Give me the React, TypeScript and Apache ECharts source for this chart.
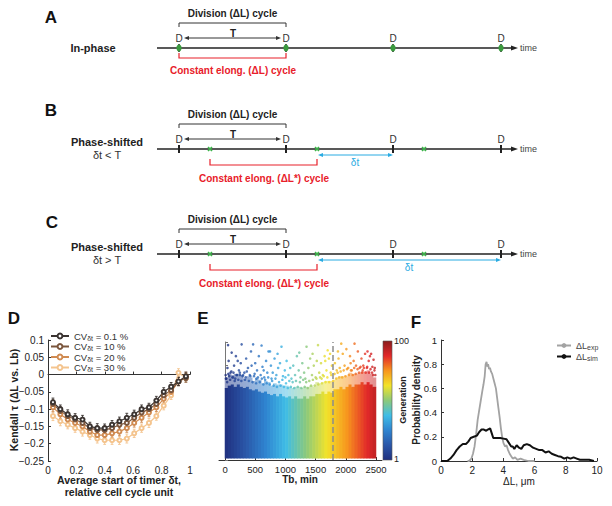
import React, { useEffect, useRef } from 'react';
import * as echarts from 'echarts';

const FONT = '"Liberation Sans", Arial, Helvetica, sans-serif';

// ---------- Panel D data ----------
const dTimerStart = [0.035, 0.087, 0.139, 0.191, 0.243, 0.295, 0.347, 0.399, 0.451, 0.503, 0.555, 0.607, 0.659, 0.711, 0.763, 0.815, 0.867, 0.919, 0.971];
const dCvLabels = ['0.1 %', '10 %', '20 %', '30 %'];
const dKendallCv01 = [-0.08, -0.1, -0.115, -0.125, -0.13, -0.15, -0.155, -0.155, -0.145, -0.135, -0.125, -0.115, -0.1, -0.095, -0.075, -0.05, -0.035, -0.02, -0.005];
const dKendallCv10 = [-0.085, -0.105, -0.12, -0.13, -0.14, -0.155, -0.16, -0.16, -0.155, -0.145, -0.14, -0.125, -0.11, -0.1, -0.085, -0.06, -0.045, -0.02, -0.01];
const dKendallCv20 = [-0.095, -0.115, -0.13, -0.14, -0.15, -0.165, -0.175, -0.175, -0.17, -0.165, -0.155, -0.14, -0.125, -0.11, -0.095, -0.07, -0.05, -0.02, -0.005];
const dKendallCv30 = [-0.12, -0.135, -0.145, -0.155, -0.165, -0.175, -0.185, -0.19, -0.19, -0.19, -0.185, -0.17, -0.155, -0.14, -0.12, -0.09, -0.06, 0.005, -0.01];
const dErrCv01 = [0.012, 0.012, 0.013, 0.012, 0.012, 0.012, 0.013, 0.012, 0.012, 0.012, 0.013, 0.012, 0.012, 0.012, 0.012, 0.012, 0.012, 0.012, 0.012];
const dErrCv10 = [0.012, 0.012, 0.012, 0.012, 0.013, 0.012, 0.012, 0.012, 0.012, 0.013, 0.012, 0.012, 0.012, 0.012, 0.012, 0.012, 0.012, 0.012, 0.012];
const dErrCv20 = [0.013, 0.012, 0.012, 0.013, 0.012, 0.012, 0.012, 0.013, 0.012, 0.012, 0.012, 0.012, 0.013, 0.012, 0.012, 0.012, 0.012, 0.012, 0.012];
const dErrCv30 = [0.013, 0.013, 0.012, 0.012, 0.013, 0.012, 0.013, 0.012, 0.012, 0.012, 0.013, 0.012, 0.012, 0.013, 0.012, 0.012, 0.012, 0.012, 0.012];

// ---------- Panel E data ----------
const eTbBins = [25, 75, 125, 175, 225, 275, 325, 375, 425, 475, 525, 575, 625, 675, 725, 775, 825, 875, 925, 975, 1025, 1075, 1125, 1175, 1225, 1275, 1325, 1375, 1425, 1475, 1525, 1575, 1625, 1675, 1725, 1775, 1825, 1875, 1925, 1975, 2025, 2075, 2125, 2175, 2225, 2275, 2325, 2375, 2425, 2475];
const eDenseTop = [3.05, 3.15, 3.2, 3.1, 3.2, 3.1, 3.05, 3.1, 3.0, 2.95, 3.0, 2.9, 2.85, 2.9, 2.8, 2.75, 2.8, 2.7, 2.8, 2.7, 2.65, 2.7, 2.6, 2.7, 2.6, 2.6, 2.7, 2.6, 2.7, 2.7, 2.8, 2.8, 2.9, 2.8, 2.9, 2.85, 3.0, 3.0, 3.1, 3.0, 3.1, 3.2, 3.1, 3.2, 3.2, 3.3, 3.2, 3.3, 3.2, 3.1];
const eMottledDepth = [0.45, 0.5, 0.4, 0.55, 0.45, 0.5, 0.4, 0.45, 0.5, 0.4, 0.45, 0.5, 0.4, 0.45, 0.5, 0.4, 0.45, 0.5, 0.4, 0.45, 0.5, 0.4, 0.45, 0.4, 0.5, 0.45, 0.4, 0.5, 0.45, 0.4, 0.5, 0.45, 0.4, 0.55, 0.45, 0.5, 0.4, 0.5, 0.45, 0.55, 0.45, 0.5, 0.55, 0.45, 0.5, 0.45, 0.55, 0.5, 0.45, 0.4];
const eSparse = [
  [10, 3.6], [40, 3.9], [60, 4.2], [90, 3.7], [50, 4.87], [120, 3.5], [150, 4.0], [180, 4.4], [200, 3.6], [230, 3.8],
  [260, 4.1], [275, 4.9], [290, 3.55], [20, 3.45], [70, 3.55], [110, 4.55], [140, 3.7], [170, 3.45], [210, 4.2], [250, 3.6],
  [320, 3.7], [350, 4.3], [380, 3.9], [410, 3.6], [440, 4.0], [465, 4.9], [480, 3.55], [500, 4.1], [530, 3.8], [560, 4.4],
  [590, 3.6], [605, 4.85], [620, 3.95], [650, 3.5], [680, 4.2], [700, 3.7], [340, 3.5], [430, 4.6], [520, 3.45], [640, 3.8],
  [720, 4.6], [745, 4.6], [760, 4.0], [790, 3.7], [820, 4.3], [850, 3.6], [880, 3.9], [910, 4.1], [935, 4.8], [960, 3.55],
  [990, 3.8], [1020, 4.2], [1050, 3.6], [1080, 3.9], [1100, 3.45], [770, 3.45], [870, 4.5], [1000, 3.5],
  [1130, 4.0], [1160, 3.6], [1190, 4.4], [1220, 3.8], [1250, 3.5], [1280, 4.1], [1310, 3.7], [1350, 4.8], [1380, 3.9], [1410, 4.3],
  [1440, 3.6], [1470, 4.0], [1500, 3.5], [1230, 4.55], [1330, 3.45], [1450, 4.5],
  [1520, 4.2], [1540, 4.87], [1560, 3.7], [1590, 4.1], [1620, 3.6], [1650, 4.4], [1680, 3.8], [1700, 4.65], [1720, 4.3], [1750, 3.7],
  [1770, 4.0], [1600, 3.45], [1740, 4.5], [1660, 4.2],
  [1820, 4.1], [1850, 3.8], [1880, 4.3], [1900, 3.9], [1925, 4.93], [1950, 4.5], [1980, 4.0], [2010, 4.7], [2040, 3.9], [2070, 4.4],
  [2100, 3.8], [2130, 4.2], [2145, 4.93], [2170, 4.0], [2200, 4.6], [2230, 3.9], [2260, 4.3], [2290, 4.0], [2320, 4.5], [2350, 3.9],
  [2380, 4.2], [2400, 4.4], [2420, 4.5], [2440, 3.95], [2460, 4.25], [2480, 3.9], [1870, 4.6], [2080, 4.1], [2280, 3.8], [2360, 4.6],
  [15, 3.45], [35, 3.3], [55, 3.65], [85, 3.4], [105, 3.75], [135, 3.5], [160, 3.35], [190, 3.6], [220, 3.4], [245, 3.7],
  [270, 3.35], [300, 3.6], [330, 3.4], [360, 3.75], [395, 3.35], [420, 3.55], [455, 3.3], [490, 3.65], [515, 3.25], [545, 3.5],
  [575, 3.3], [610, 3.45], [635, 3.2], [665, 3.4], [690, 3.25], [715, 3.5], [740, 3.2], [780, 3.35], [805, 3.15], [835, 3.45],
  [860, 3.1], [895, 3.3], [920, 3.15], [950, 3.4], [975, 3.1], [1010, 3.25], [1040, 3.05], [1065, 3.35], [1090, 3.1], [1120, 3.3],
  [1145, 3.05], [1175, 3.35], [1205, 3.1], [1240, 3.3], [1265, 3.05], [1295, 3.4], [1320, 3.1], [1345, 3.3], [1370, 3.05], [1395, 3.35],
  [1425, 3.15], [1455, 3.4], [1485, 3.15], [1515, 3.45], [1545, 3.2], [1575, 3.5], [1605, 3.25], [1635, 3.55], [1665, 3.3], [1695, 3.5],
  [1725, 3.3], [1760, 3.6], [1790, 3.35], [1815, 3.65], [1840, 3.45], [1865, 3.7], [1890, 3.5], [1915, 3.75], [1940, 3.5], [1965, 3.8],
  [1995, 3.55], [2020, 3.85], [2050, 3.6], [2085, 3.8], [2115, 3.6], [2140, 3.9], [2165, 3.65], [2195, 3.85], [2220, 3.7], [2245, 3.95],
  [2270, 3.7], [2300, 3.9], [2330, 3.7], [2355, 3.95], [2385, 3.7], [2410, 3.85], [2435, 3.7], [2455, 3.6], [2475, 3.8], [2490, 3.6]
];
const eBinWidth = 50;
const eDivisionTb = 1780;
const eTbTicks = [0, 500, 1000, 1500, 2000, 2500];
const eGenerationLabels = ['100', '1'];

// ---------- Panel F data ----------
const fExp = [
  [1.7, 0], [1.8, 0], [1.95, 0.02], [2.05, 0.06], [2.15, 0.12], [2.25, 0.22], [2.35, 0.34], [2.45, 0.42], [2.55, 0.5], [2.65, 0.58],
  [2.72, 0.63], [2.8, 0.7], [2.86, 0.8], [2.92, 0.82], [2.97, 0.78], [3.02, 0.8], [3.08, 0.76], [3.14, 0.77], [3.2, 0.74], [3.28, 0.72],
  [3.36, 0.68], [3.44, 0.64], [3.52, 0.6], [3.6, 0.52], [3.68, 0.44], [3.76, 0.36], [3.84, 0.27], [3.92, 0.2], [4.0, 0.15], [4.1, 0.12],
  [4.2, 0.13], [4.3, 0.09], [4.4, 0.06], [4.5, 0.04], [4.6, 0.02], [4.75, 0.03], [4.9, 0.01], [5.1, 0.02], [5.3, 0.01], [5.6, 0], [6, 0]
];
const fSim = [
  [0, 0], [0.4, 0], [0.6, 0.02], [0.8, 0.05], [1.0, 0.09], [1.2, 0.12], [1.4, 0.14], [1.6, 0.14], [1.75, 0.16], [1.9, 0.19],
  [2.1, 0.2], [2.3, 0.21], [2.45, 0.24], [2.6, 0.26], [2.75, 0.26], [2.9, 0.25], [3.0, 0.26], [3.15, 0.27], [3.25, 0.23], [3.35, 0.19],
  [3.6, 0.19], [3.8, 0.19], [4.0, 0.185], [4.2, 0.18], [4.35, 0.15], [4.5, 0.12], [4.6, 0.12], [4.7, 0.1], [4.85, 0.13], [5.0, 0.11],
  [5.15, 0.1], [5.3, 0.13], [5.5, 0.14], [5.7, 0.13], [5.9, 0.11], [6.1, 0.1], [6.3, 0.09], [6.5, 0.09], [6.7, 0.07], [6.9, 0.08],
  [7.1, 0.06], [7.3, 0.05], [7.5, 0.04], [7.7, 0.035], [7.9, 0.02], [8.1, 0.03], [8.3, 0.02], [8.5, 0.03], [8.7, 0.02], [8.9, 0.01],
  [9.2, 0.01], [9.5, 0.01], [9.8, 0]
];
const fLegendNames = ['exp', 'sim'];

// ---------- Diagram (A-C) layout ----------
const D_X = [179, 286, 393, 501];
const G_X = [210, 317, 424];

const JET = ['#20307f', '#2a56a8', '#2f84d0', '#3fbde6', '#8cc97a', '#f2e32a', '#f7961e', '#e2282a', '#8a1c1c'];

function buildGraphics() {
  const els: any[] = [];
  const text = (x: number, y: number, t: string, o: any = {}) => {
    const { rotation, ...st } = o;
    const el: any = {
      type: 'text', x, y,
      style: { text: t, fontFamily: FONT, fontSize: 10, fill: '#222', align: 'center', verticalAlign: 'middle', textAlign: 'center', textVerticalAlign: 'middle', ...st },
    };
    if (rotation !== undefined) el.rotation = rotation;
    els.push(el);
  };
  const line = (x1: number, y1: number, x2: number, y2: number, stroke = '#222', lw = 1) =>
    els.push({ type: 'line', shape: { x1, y1, x2, y2 }, style: { stroke, lineWidth: lw } });
  const poly = (pts: number[][], stroke: string, lw = 1) =>
    els.push({ type: 'polyline', shape: { points: pts }, style: { stroke, lineWidth: lw, fill: null } });
  const head = (x: number, y: number, dir: number, fill: string, len = 6, half = 2.2) =>
    els.push({ type: 'polygon', shape: { points: [[x, y], [x - dir * len, y - half], [x - dir * len, y + half]] }, style: { fill } });
  const dblArrow = (x1: number, x2: number, y: number, color: string) => {
    line(x1 + 4, y, x2 - 4, y, color, 1);
    head(x1, y, -1, color, 5, 2);
    head(x2, y, 1, color, 5, 2);
  };

  const panel = (y0: number, kind: 'A' | 'B' | 'C') => {
    text(232.5, y0 - 35, 'Division (ΔL) cycle', { fontWeight: 'bold' });
    poly([[D_X[0], y0 - 21], [D_X[0], y0 - 25], [D_X[1], y0 - 25], [D_X[1], y0 - 21]], '#333', 1);
    D_X.forEach((x) => text(x, y0 - 10, 'D', { fill: '#333' }));
    dblArrow(184, 281, y0 - 10, '#333');
    text(233, y0 - 15, 'T', { fontWeight: 'bold' });
    line(157, y0, 512, y0, '#222', 1.3);
    head(518, y0, 1, '#222', 7, 2.6);
    text(520, y0, 'time', { fontSize: 9, align: 'left', textAlign: 'left', fill: '#444' });
    if (kind === 'A') {
      D_X.forEach((x) => {
        line(x, y0 - 4, x, y0 + 4, '#222', 1.5);
        els.push({ type: 'ellipse', shape: { cx: x, cy: y0, rx: 2.6, ry: 3.4 }, style: { fill: '#3a9a3e' } });
      });
      text(93, y0, 'In-phase', { fontWeight: 'bold', fontSize: 11 });
      poly([[D_X[0], y0 + 5], [D_X[0], y0 + 10], [D_X[1], y0 + 10], [D_X[1], y0 + 5]], '#e8202a', 1.2);
      text(233, y0 + 22, 'Constant elong. (ΔL) cycle', { fontWeight: 'bold', fill: '#e8202a' });
    } else {
      D_X.forEach((x) => line(x, y0 - 4, x, y0 + 4, '#222', 2));
      G_X.forEach((x) => {
        line(x - 2, y0 - 2, x + 2, y0 + 2, '#3cb44a', 1.6);
        line(x - 2, y0 + 2, x + 2, y0 - 2, '#3cb44a', 1.6);
      });
      text(107, y0 - 7, 'Phase-shifted', { fontWeight: 'bold', fontSize: 11 });
      text(107, y0 + 6, kind === 'B' ? 'δt < T' : 'δt > T', { fontSize: 11, fill: '#333' });
      poly([[G_X[0], y0 + 10], [G_X[0], y0 + 16], [G_X[1], y0 + 16], [G_X[1], y0 + 10]], '#e8202a', 1.2);
      text(264, y0 + 29, 'Constant elong. (ΔL*) cycle', { fontWeight: 'bold', fill: '#e8202a' });
      const xEnd = kind === 'B' ? D_X[2] : D_X[3];
      dblArrow(G_X[1] + 1, xEnd, y0 + 6, '#29abe2');
      text((G_X[1] + xEnd) / 2, y0 + 13, 'δt', { fill: '#29abe2', fontSize: 10 });
    }
  };
  panel(48, 'A');
  panel(149, 'B');
  panel(254, 'C');

  const letter = (x: number, y: number, t: string) => text(x, y, t, { fontWeight: 'bold', fontSize: 17, fill: '#111' });
  letter(51, 17, 'A');
  letter(51, 110, 'B');
  letter(52, 222, 'C');
  letter(14, 318, 'D');
  letter(203, 318, 'E');
  letter(416, 322, 'F');

  // D axis titles
  text(14, 400, 'Kendall τ (ΔL vs. Lb)', { fontWeight: 'bold', fontSize: 10.5, rotation: Math.PI / 2 });
  text(119, 480, 'Average start of timer δt,', { fontWeight: 'bold', fontSize: 10.5 });
  text(119, 492, 'relative cell cycle unit', { fontWeight: 'bold', fontSize: 10.5 });

  // E titles and colorbar
  text(300, 479, 'Tb, min', { fontWeight: 'bold', fontSize: 10 });
  els.push({
    type: 'rect', shape: { x: 383, y: 341, width: 9, height: 119 },
    style: {
      fill: {
        type: 'linear', x: 0, y: 1, x2: 0, y2: 0,
        colorStops: JET.map((c, i) => ({ offset: i / (JET.length - 1), color: c })),
      },
      stroke: '#555', lineWidth: 0.6,
    },
  });
  text(394, 341, eGenerationLabels[0], { fontSize: 9, align: 'left', textAlign: 'left' });
  text(394, 459, eGenerationLabels[1], { fontSize: 9, align: 'left', textAlign: 'left' });
  text(403, 400, 'Generation', { fontWeight: 'bold', fontSize: 9, rotation: Math.PI / 2 });

  // F titles
  text(416, 400, 'Probability density', { fontWeight: 'bold', fontSize: 10, rotation: Math.PI / 2 });
  text(519, 481, 'ΔL, μm', { fontSize: 10 });
  return els;
}

function errorBarSeries(name: string, ys: number[], errs: number[], color: string) {
  return {
    type: 'custom',
    name: name + '_err',
    xAxisIndex: 0,
    yAxisIndex: 0,
    z: 2,
    silent: true,
    encode: { x: 0, y: 1 },
    data: dTimerStart.map((x, i) => [x, ys[i], errs[i]]),
    renderItem: (_p: any, api: any) => {
      const x = api.value(0), y = api.value(1), e = api.value(2);
      const t = api.coord([x, y + e]);
      const b = api.coord([x, y - e]);
      const w = 1.4;
      const st = { stroke: color, lineWidth: 0.9 };
      return {
        type: 'group',
        children: [
          { type: 'line', shape: { x1: t[0], y1: t[1], x2: b[0], y2: b[1] }, style: st },
          { type: 'line', shape: { x1: t[0] - w, y1: t[1], x2: t[0] + w, y2: t[1] }, style: st },
          { type: 'line', shape: { x1: b[0] - w, y1: b[1], x2: b[0] + w, y2: b[1] }, style: st },
        ],
      };
    },
  };
}

export default function App() {
  const ref = useRef<HTMLDivElement>(null);
  useEffect(() => {
    if (!ref.current) return;
    const chart = echarts.init(ref.current, undefined, { renderer: 'svg' });
    const axisLine = { show: true, lineStyle: { color: '#333', width: 1 } };
    const axisLabel = { color: '#222', fontFamily: FONT, fontSize: 10, margin: 4 };
    const tick = { show: true, inside: true, length: 3, lineStyle: { color: '#333' } };

    const dSeriesVals = [dKendallCv01, dKendallCv10, dKendallCv20, dKendallCv30];
    const dErrs = [dErrCv01, dErrCv10, dErrCv20, dErrCv30];
    const dColors = ['#3b3431', '#7b563d', '#d08b52', '#f4c48e'];
    const order = [3, 2, 1, 0];

    const series: any[] = [];
    order.forEach((i) => series.push(errorBarSeries(dCvLabels[i], dSeriesVals[i], dErrs[i], dColors[i])));
    order.forEach((i) =>
      series.push({
        type: 'line',
        name: dCvLabels[i],
        xAxisIndex: 0,
        yAxisIndex: 0,
        z: 3,
        data: dTimerStart.map((x, k) => [x, dSeriesVals[i][k]]),
        symbol: 'emptyCircle',
        symbolSize: 4,
        lineStyle: { color: dColors[i], width: 1.2 },
        itemStyle: { color: dColors[i], borderWidth: 1 },
      })
    );
    const cloudIndex = series.length;
    series.push({
      type: 'custom',
      name: 'cloud',
      xAxisIndex: 1,
      yAxisIndex: 1,
      silent: true,
      encode: { x: 0, y: 1 },
      data: eTbBins.map((t, i) => [t, eDenseTop[i], eMottledDepth[i]]),
      renderItem: (_p: any, api: any) => {
        const tb = api.value(0), top = api.value(1), depth = api.value(2);
        const color = api.visual('color');
        const pale = echarts.color.lerp(0.5, ['#ffffff', color]);
        const pL = api.coord([tb - eBinWidth / 2, 0]);
        const pR = api.coord([tb + eBinWidth / 2, top]);
        const pM = api.coord([tb, top + depth]);
        const x = pL[0] - 0.3;
        const w = pR[0] - pL[0] + 0.6;
        return {
          type: 'group',
          children: [
            { type: 'rect', shape: { x, y: pM[1], width: w, height: pR[1] - pM[1] + 0.5 }, style: { fill: pale } },
            { type: 'rect', shape: { x, y: pR[1], width: w, height: pL[1] - pR[1] - 1.5 }, style: { fill: color } },
          ],
        };
      },
    });
    const scatterIndex = series.length;
    series.push({
      type: 'scatter',
      name: 'sparse',
      xAxisIndex: 1,
      yAxisIndex: 1,
      symbolSize: 2.6,
      data: eSparse,
      markLine: {
        silent: true,
        symbol: ['none', 'none'],
        label: { show: false },
        lineStyle: { color: '#8c8c8c', type: 'dashed', width: 1.5 },
        data: [{ xAxis: eDivisionTb }],
      },
    });
    series.push({
      type: 'line', name: fLegendNames[0], xAxisIndex: 2, yAxisIndex: 2, symbol: 'none',
      data: fExp, lineStyle: { color: '#a3a3a3', width: 1.8 }, itemStyle: { color: '#a3a3a3' },
    });
    series.push({
      type: 'line', name: fLegendNames[1], xAxisIndex: 2, yAxisIndex: 2, symbol: 'none',
      data: fSim, lineStyle: { color: '#111', width: 2 }, itemStyle: { color: '#111' },
    });

    const option: any = {
      animation: false,
      backgroundColor: '#ffffff',
      textStyle: { fontFamily: FONT },
      grid: [
        { left: 48, top: 340, width: 142, height: 121 },
        { left: 219, top: 342, width: 163, height: 118 },
        { left: 441, top: 340, width: 156, height: 121 },
      ],
      xAxis: [
        {
          gridIndex: 0, type: 'value', min: 0, max: 1, interval: 0.2,
          axisLine, axisTick: tick, axisLabel, splitLine: { show: false },
        },
        {
          gridIndex: 1, type: 'value', min: -100, max: 2600,
          axisLine, splitLine: { show: false },
          axisTick: { ...tick, customValues: eTbTicks },
          axisLabel: { ...axisLabel, fontSize: 9.5, customValues: eTbTicks, formatter: (v: number) => String(v) },
        },
        {
          gridIndex: 2, type: 'value', min: 0, max: 10, interval: 2,
          axisLine, axisTick: tick, axisLabel, splitLine: { show: false },
        },
      ],
      yAxis: [
        {
          gridIndex: 0, type: 'value', min: -0.25, max: 0.1, interval: 0.05,
          axisLine, axisTick: tick, splitLine: { show: false },
          axisLabel: { ...axisLabel, formatter: (v: number) => String(Math.round(v * 100) / 100).replace('-', '−') },
        },
        {
          gridIndex: 1, type: 'value', min: 0, max: 5, interval: 1,
          axisLine: { show: true, lineStyle: { color: '#777', width: 1 } },
          axisTick: { ...tick, lineStyle: { color: '#777' } },
          axisLabel: { show: false }, splitLine: { show: false },
        },
        {
          gridIndex: 2, type: 'value', min: 0, max: 1, interval: 0.2,
          axisLine, axisTick: tick, axisLabel: { ...axisLabel, fontSize: 9.5 }, splitLine: { show: false },
        },
      ],
      visualMap: {
        show: false,
        type: 'continuous',
        dimension: 0,
        min: 0,
        max: 2700,
        seriesIndex: [cloudIndex, scatterIndex],
        inRange: { color: JET },
      },
      legend: [
        {
          data: dCvLabels,
          left: 50,
          top: 331,
          orient: 'vertical',
          itemWidth: 18,
          itemHeight: 6,
          itemGap: 0,
          padding: 0,
          formatter: (n: string) => `CV{s|δt} = ${n}`,
          textStyle: {
            fontFamily: FONT, fontSize: 9.5, color: '#333', lineHeight: 9.5,
            rich: { s: { fontSize: 7, padding: [4, 0, 0, 0], fontFamily: FONT, color: '#333' } },
          },
        },
        {
          data: fLegendNames,
          left: 556,
          top: 341,
          orient: 'vertical',
          itemWidth: 14,
          itemHeight: 6,
          itemGap: 1,
          padding: 0,
          formatter: (n: string) => `ΔL{s|${n}}`,
          textStyle: {
            fontFamily: FONT, fontSize: 9, color: '#444', lineHeight: 9,
            rich: { s: { fontSize: 7, padding: [4, 0, 0, 0], fontFamily: FONT, color: '#444' } },
          },
        },
      ],
      graphic: buildGraphics(),
      series,
    };
    chart.setOption(option);
    return () => chart.dispose();
  }, []);
  return <div ref={ref} style={{ position: 'absolute', left: 0, top: 0, width: 612, height: 506 }} />;
}
